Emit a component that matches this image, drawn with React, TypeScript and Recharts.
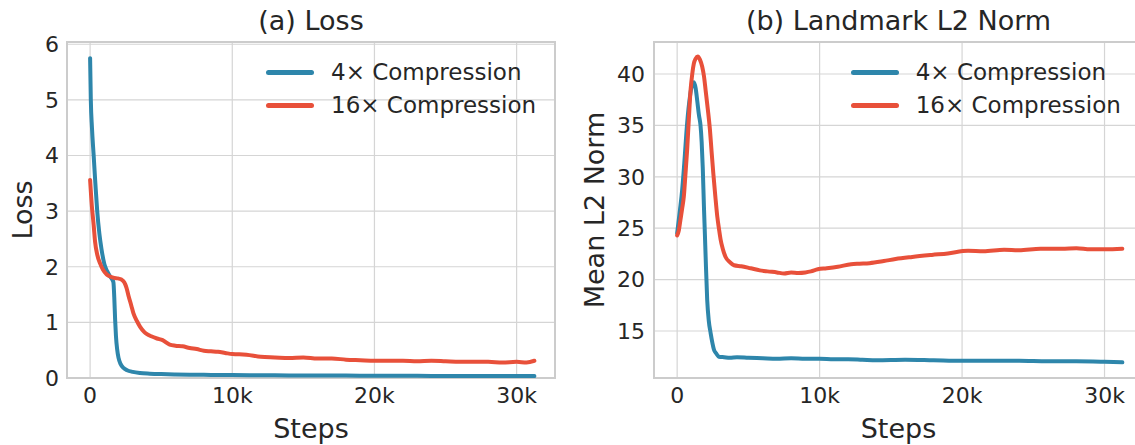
import { LineChart, Line, XAxis, YAxis, CartesianGrid, Legend, ReferenceArea } from "recharts";

const FONT = '"DejaVu Sans", sans-serif';
const TEXT = "#262626";
const BLUE = "#2E86AB";
const RED = "#E8503A";
const GRID = "#d5d5d5";
const FRAME = "#cccccc";

const seriesNames = ["4\u00d7 Compression", "16\u00d7 Compression"];
const stepTicks = [0, 10000, 20000, 30000];
const lossTicks = [0, 1, 2, 3, 4, 5, 6];
const normTicks = [15, 20, 25, 30, 35, 40];
const stepDomain: [number, number] = [-1625, 32700];

// (a) loss, 4x
const lossSteps4 = [0, 50, 130, 250, 370, 500, 650, 800, 1000, 1200, 1400, 1560, 1640, 1700, 1760, 1820, 1900, 2000, 2150, 2350, 2600, 3000, 3500, 4200, 5000, 6000, 7000, 8000, 9000, 10000, 12000, 14000, 16000, 18000, 20000, 22000, 24000, 26000, 28000, 30000, 31250];
const loss4 = [5.75, 5.0, 4.5, 4.0, 3.5, 3.0, 2.6, 2.32, 2.05, 1.92, 1.83, 1.77, 1.72, 1.45, 1.05, 0.75, 0.52, 0.36, 0.25, 0.18, 0.14, 0.11, 0.09, 0.078, 0.07, 0.064, 0.06, 0.057, 0.055, 0.052, 0.05, 0.047, 0.045, 0.043, 0.041, 0.04, 0.038, 0.037, 0.036, 0.035, 0.034];

// (a) loss, 16x
const lossSteps16 = [0, 120, 250, 350, 500, 700, 900, 1170, 1450, 1700, 1950, 2200, 2400, 2550, 2700, 2900, 3050, 3300, 3520, 3800, 4000, 4300, 4700, 5100, 5600, 6000, 6500, 7000, 7500, 8000, 8500, 9000, 9500, 10000, 11000, 12000, 13000, 14000, 15000, 16000, 17000, 18000, 19000, 20000, 21000, 22000, 23000, 24000, 25000, 26000, 27000, 28000, 29000, 30000, 30700, 31250];
const loss16 = [3.56, 3.1, 2.75, 2.45, 2.22, 2.06, 1.95, 1.86, 1.82, 1.8, 1.79, 1.77, 1.72, 1.63, 1.48, 1.3, 1.16, 1.02, 0.92, 0.83, 0.79, 0.75, 0.71, 0.68, 0.6, 0.58, 0.57, 0.54, 0.52, 0.49, 0.48, 0.47, 0.45, 0.43, 0.42, 0.38, 0.37, 0.36, 0.37, 0.35, 0.35, 0.33, 0.32, 0.31, 0.31, 0.31, 0.3, 0.31, 0.3, 0.29, 0.29, 0.29, 0.28, 0.29, 0.28, 0.31];

// (b) landmark norm, 4x
const normSteps4 = [0, 200, 350, 500, 700, 900, 1060, 1180, 1300, 1410, 1530, 1640, 1720, 1800, 1880, 1950, 2000, 2110, 2220, 2350, 2480, 2580, 2750, 2930, 3300, 3700, 4200, 5000, 6000, 7000, 8000, 9000, 10000, 11000, 12000, 13000, 14000, 16000, 18000, 20000, 22000, 24000, 26000, 28000, 30000, 31250];
const norm4 = [24.5, 26.8, 28.7, 31.3, 35.2, 37.8, 39.0, 39.2, 38.6, 37.4, 36.0, 35.0, 33.4, 30.8, 27.1, 24.3, 22.2, 18.0, 16.0, 14.8, 13.8, 13.2, 12.8, 12.5, 12.45, 12.4, 12.45, 12.4, 12.35, 12.3, 12.35, 12.3, 12.3, 12.25, 12.25, 12.2, 12.15, 12.2, 12.15, 12.1, 12.1, 12.1, 12.05, 12.05, 12.0, 11.95];

// (b) landmark norm, 16x
const normSteps16 = [0, 120, 230, 350, 470, 580, 700, 820, 940, 1060, 1170, 1300, 1450, 1600, 1760, 1880, 2000, 2150, 2300, 2420, 2540, 2680, 2820, 2940, 3050, 3200, 3400, 3700, 3990, 4500, 5160, 5800, 6340, 7000, 7510, 8000, 8500, 9000, 9390, 9870, 10500, 11280, 12210, 12800, 13500, 14500, 15330, 16500, 17880, 19000, 20420, 21500, 22950, 24000, 25500, 27000, 28030, 29000, 30060, 31250];
const norm16 = [24.3, 24.8, 25.8, 26.9, 28.1, 30.2, 32.6, 35.6, 38.4, 40.0, 41.0, 41.5, 41.7, 41.4, 40.7, 39.8, 38.4, 36.6, 34.6, 32.4, 30.3, 28.1, 26.1, 24.9, 23.9, 23.0, 22.2, 21.7, 21.4, 21.3, 21.1, 20.9, 20.8, 20.7, 20.6, 20.7, 20.65, 20.7, 20.8, 21.0, 21.1, 21.25, 21.5, 21.55, 21.6, 21.8, 22.0, 22.2, 22.4, 22.55, 22.8, 22.75, 22.9, 22.85, 23.0, 23.0, 23.05, 22.95, 22.95, 23.0];

const toPoints = (steps: number[], values: number[]) =>
  steps.map((step, i) => ({ step, value: values[i] }));

const fmtStep = (v: number) => (v === 0 ? "0" : `${v / 1000}k`);

const renderLegend = () => (
  <div style={{ fontFamily: FONT, fontSize: 23, color: TEXT }}>
    {seriesNames.map((name, i) => (
      <div key={name} style={{ display: "flex", alignItems: "center", height: 33.3, whiteSpace: "nowrap" }}>
        <span
          style={{
            display: "inline-block",
            width: 48,
            height: 5,
            borderRadius: 2.5,
            background: i === 0 ? BLUE : RED,
            marginRight: 17,
          }}
        />
        <span>{name}</span>
      </div>
    ))}
  </div>
);

const yLabel = (text: string, x: number) => (props: any) => {
  const vb = props.viewBox || { y: 42, height: 336 };
  const cy = vb.y + vb.height / 2;
  return (
    <text
      x={x}
      y={cy}
      transform={`rotate(-90 ${x} ${cy})`}
      textAnchor="middle"
      fontSize={27}
      fill={TEXT}
      fontFamily={FONT}
    >
      {text}
    </text>
  );
};

interface PanelProps {
  left: number;
  width: number;
  yAxisWidth: number;
  rightMargin: number;
  title: string;
  yTitle: string;
  yTitleX: number;
  yDomain: [number, number];
  yTicks: number[];
  yTickMargin: number;
  legendLeft: number;
  blue: { step: number; value: number }[];
  red: { step: number; value: number }[];
}

function Panel(p: PanelProps) {
  const plotLeft = p.yAxisWidth;
  const plotWidth = p.width - p.yAxisWidth - p.rightMargin;
  return (
    <div style={{ position: "absolute", left: p.left, top: 0, width: p.width, height: 445 }}>
      <div
        style={{
          position: "absolute",
          left: plotLeft,
          width: plotWidth,
          top: 7,
          textAlign: "center",
          fontFamily: FONT,
          fontSize: 27,
          lineHeight: "27px",
          color: TEXT,
          whiteSpace: "nowrap",
        }}
      >
        {p.title}
      </div>
      <LineChart width={p.width} height={445} margin={{ top: 42, right: p.rightMargin, bottom: 0, left: 0 }}>
        <CartesianGrid stroke={GRID} strokeWidth={1.2} />
        <XAxis
          type="number"
          dataKey="step"
          domain={stepDomain}
          ticks={stepTicks}
          tickFormatter={fmtStep}
          allowDataOverflow
          height={67}
          axisLine={false}
          tickLine={false}
          tickSize={0}
          tickMargin={9}
          tick={{ fontSize: 22, fill: TEXT, fontFamily: FONT }}
          label={{ value: "Steps", position: "insideBottom", offset: 7, fontSize: 27, fill: TEXT, fontFamily: FONT }}
        />
        <YAxis
          type="number"
          domain={p.yDomain}
          ticks={p.yTicks}
          allowDataOverflow
          width={p.yAxisWidth}
          axisLine={false}
          tickLine={false}
          tickSize={0}
          tickMargin={p.yTickMargin}
          tick={{ fontSize: 22, fill: TEXT, fontFamily: FONT }}
          label={yLabel(p.yTitle, p.yTitleX)}
        />
        <ReferenceArea
          x1={stepDomain[0]}
          x2={stepDomain[1]}
          y1={p.yDomain[0]}
          y2={p.yDomain[1]}
          fill="none"
          stroke={FRAME}
          strokeWidth={2}
          ifOverflow="visible"
        />
        <Legend
          layout="vertical"
          align="center"
          verticalAlign="middle"
          content={renderLegend}
          wrapperStyle={{ left: p.legendLeft, top: 55.4, width: "auto" }}
        />
        <Line
          data={p.blue}
          dataKey="value"
          name={seriesNames[0]}
          type="monotone"
          stroke={BLUE}
          strokeWidth={4}
          strokeLinecap="round"
          strokeLinejoin="round"
          dot={false}
          activeDot={false}
          isAnimationActive={false}
        />
        <Line
          data={p.red}
          dataKey="value"
          name={seriesNames[1]}
          type="monotone"
          stroke={RED}
          strokeWidth={4}
          strokeLinecap="round"
          strokeLinejoin="round"
          dot={false}
          activeDot={false}
          isAnimationActive={false}
        />
      </LineChart>
    </div>
  );
}

export default function App() {
  return (
    <div
      style={{
        position: "absolute",
        left: 0,
        top: 0,
        width: 1135,
        height: 445,
        overflow: "hidden",
        background: "#ffffff",
      }}
    >
      <Panel
        left={0}
        width={560}
        yAxisWidth={67}
        rightMargin={5}
        title="(a) Loss"
        yTitle="Loss"
        yTitleX={31.7}
        yDomain={[0, 6.04]}
        yTicks={lossTicks}
        yTickMargin={8}
        legendLeft={266}
        blue={toPoints(lossSteps4, loss4)}
        red={toPoints(lossSteps16, loss16)}
      />
      <Panel
        left={570}
        width={575}
        yAxisWidth={84}
        rightMargin={2}
        title="(b) Landmark L2 Norm"
        yTitle="Mean L2 Norm"
        yTitleX={34}
        yDomain={[10.43, 43.11]}
        yTicks={normTicks}
        yTickMargin={9}
        legendLeft={280.7}
        blue={toPoints(normSteps4, norm4)}
        red={toPoints(normSteps16, norm16)}
      />
    </div>
  );
}
